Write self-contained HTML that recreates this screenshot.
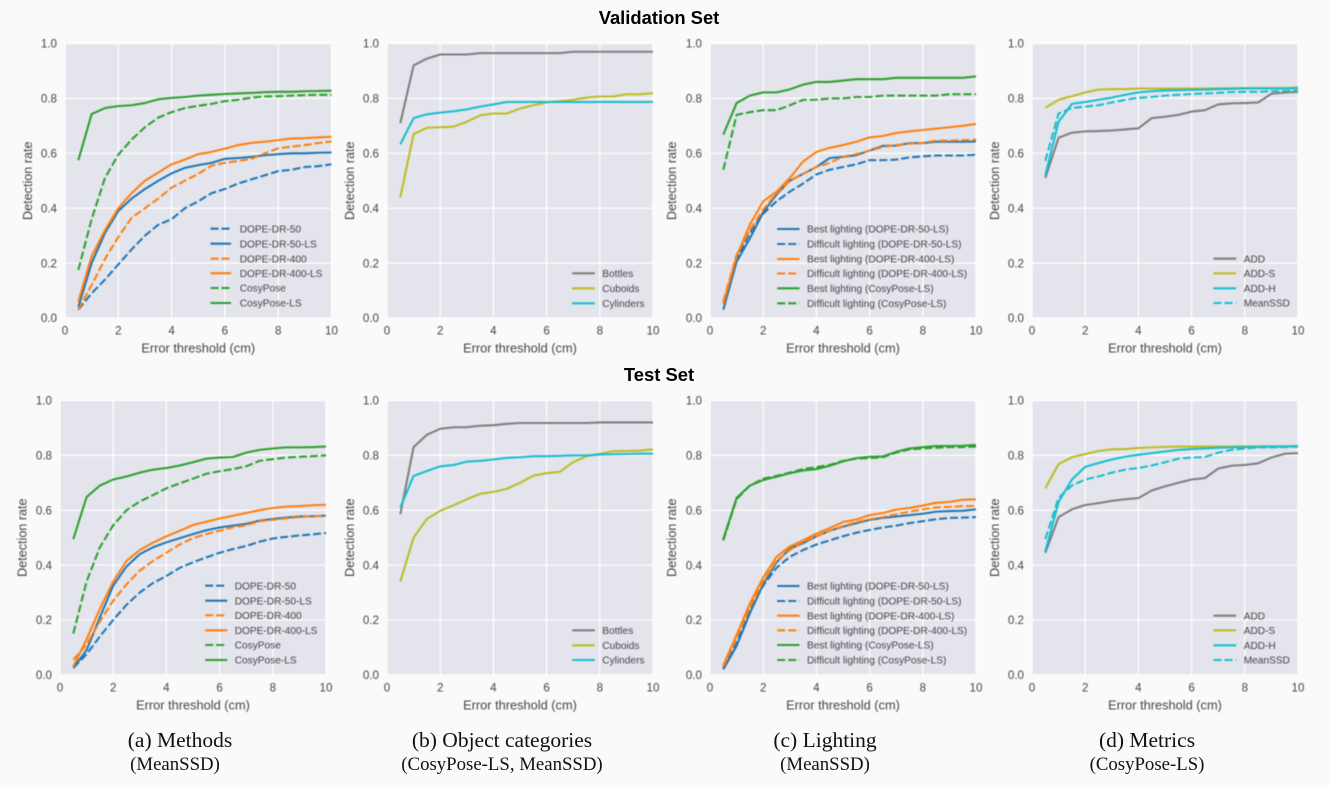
<!DOCTYPE html>
<html lang="en">
<head>
<meta charset="utf-8">
<title>Detection rate vs error threshold</title>
<style>
html,body{margin:0;padding:0;background:#fafafa;}
#figure{position:relative;width:1330px;height:785px;overflow:hidden;background:#fafafa;}
#chart{position:absolute;left:0;top:0;filter:blur(0.45px);}
.heading{position:absolute;font-family:"Liberation Sans",Arial,sans-serif;font-weight:bold;font-size:18.4px;color:#000;width:300px;text-align:center;left:509px;line-height:20px;}
.cap{position:absolute;font-family:"Liberation Serif","Times New Roman",serif;color:#111;text-align:center;white-space:nowrap;transform:translateX(-50%);}
.cap1{font-size:21.5px;line-height:24px;top:727.5px;}
.cap2{font-size:18.8px;line-height:20px;top:755px;}
</style>
</head>
<body>
<div id="figure">
  <svg id="chart" width="1330" height="785" viewBox="0 0 1330 785" xmlns="http://www.w3.org/2000/svg"></svg>
  <div class="heading" style="top:8px">Validation Set</div>
  <div class="heading" style="top:365px">Test Set</div>
  <div class="cap cap1" style="left:180px">(a) Methods</div>
  <div class="cap cap2" style="left:175px">(MeanSSD)</div>
  <div class="cap cap1" style="left:502px">(b) Object categories</div>
  <div class="cap cap2" style="left:502px">(CosyPose-LS, MeanSSD)</div>
  <div class="cap cap1" style="left:825px">(c) Lighting</div>
  <div class="cap cap2" style="left:825px">(MeanSSD)</div>
  <div class="cap cap1" style="left:1147px">(d) Metrics</div>
  <div class="cap cap2" style="left:1147px">(CosyPose-LS)</div>
</div>
<script>
// ---------- shared axis data ----------
const thresholds = [0.5,1,1.5,2,2.5,3,3.5,4,4.5,5,5.5,6,6.5,7,7.5,8,8.5,9,9.5,10];
const xTickValues = [0,2,4,6,8,10];
const xTickLabels = ['0','2','4','6','8','10'];
const yTickValues = [0,0.2,0.4,0.6,0.8,1];
const yTickLabels = ['0.0','0.2','0.4','0.6','0.8','1.0'];

// ---------- legend labels ----------
const methodLabels = ['DOPE-DR-50','DOPE-DR-50-LS','DOPE-DR-400','DOPE-DR-400-LS','CosyPose','CosyPose-LS'];
const categoryLabels = ['Bottles','Cuboids','Cylinders'];
const lightingLabels = ['Best lighting (DOPE-DR-50-LS)','Difficult lighting (DOPE-DR-50-LS)','Best lighting (DOPE-DR-400-LS)','Difficult lighting (DOPE-DR-400-LS)','Best lighting (CosyPose-LS)','Difficult lighting (CosyPose-LS)'];
const metricLabels = ['ADD','ADD-S','ADD-H','MeanSSD'];

// ---------- validation: methods ----------
const valDope50 = [0.03,0.09,0.14,0.195,0.25,0.30,0.34,0.36,0.40,0.425,0.455,0.47,0.49,0.505,0.52,0.535,0.54,0.55,0.553,0.56];
const valDope50LS = [0.04,0.20,0.31,0.39,0.435,0.47,0.50,0.527,0.547,0.557,0.565,0.58,0.583,0.587,0.593,0.597,0.60,0.60,0.602,0.603];
const valDope400 = [0.03,0.12,0.215,0.295,0.365,0.40,0.435,0.475,0.50,0.525,0.555,0.565,0.572,0.58,0.60,0.618,0.624,0.63,0.637,0.643];
const valDope400LS = [0.06,0.225,0.32,0.40,0.455,0.50,0.53,0.56,0.577,0.597,0.605,0.617,0.63,0.638,0.642,0.648,0.654,0.655,0.658,0.66];
const valCosy = [0.175,0.36,0.51,0.595,0.65,0.695,0.73,0.75,0.765,0.773,0.78,0.79,0.795,0.803,0.807,0.808,0.81,0.812,0.813,0.813];
const valCosyLS = [0.575,0.743,0.765,0.772,0.775,0.783,0.797,0.802,0.805,0.81,0.813,0.816,0.818,0.82,0.823,0.824,0.824,0.826,0.827,0.828];

// ---------- validation: categories ----------
const valBottles = [0.71,0.92,0.945,0.96,0.96,0.96,0.965,0.965,0.965,0.965,0.965,0.965,0.965,0.97,0.97,0.97,0.97,0.97,0.97,0.97];
const valCuboids = [0.44,0.67,0.693,0.695,0.697,0.715,0.738,0.745,0.745,0.763,0.775,0.785,0.79,0.795,0.803,0.807,0.807,0.815,0.815,0.819];
const valCylinders = [0.633,0.728,0.742,0.748,0.753,0.76,0.77,0.778,0.787,0.787,0.787,0.787,0.787,0.787,0.787,0.787,0.787,0.787,0.787,0.787];

// ---------- validation: lighting ----------
const valBest50 = [0.03,0.205,0.29,0.385,0.45,0.50,0.525,0.55,0.583,0.587,0.593,0.61,0.627,0.628,0.637,0.637,0.642,0.642,0.642,0.643];
const valDiff50 = [0.05,0.215,0.31,0.38,0.425,0.46,0.49,0.523,0.54,0.55,0.56,0.575,0.575,0.577,0.585,0.589,0.592,0.592,0.592,0.595];
const valBest400 = [0.05,0.225,0.34,0.425,0.46,0.51,0.57,0.605,0.62,0.63,0.642,0.658,0.663,0.674,0.68,0.685,0.69,0.695,0.70,0.707];
const valDiff400 = [0.06,0.23,0.32,0.395,0.455,0.50,0.525,0.55,0.565,0.588,0.597,0.61,0.623,0.63,0.635,0.638,0.646,0.646,0.648,0.65];
const valBestCosy = [0.668,0.783,0.81,0.822,0.822,0.833,0.85,0.86,0.86,0.865,0.87,0.87,0.87,0.875,0.875,0.875,0.875,0.875,0.875,0.88];
const valDiffCosy = [0.54,0.74,0.75,0.757,0.757,0.775,0.795,0.795,0.80,0.80,0.805,0.805,0.81,0.81,0.81,0.81,0.81,0.815,0.815,0.815];

// ---------- validation: metrics ----------
const valAdd = [0.51,0.657,0.675,0.68,0.681,0.683,0.687,0.691,0.728,0.733,0.74,0.752,0.757,0.778,0.782,0.783,0.785,0.817,0.821,0.824];
const valAddS = [0.766,0.795,0.808,0.822,0.832,0.834,0.834,0.836,0.836,0.836,0.836,0.836,0.836,0.837,0.837,0.838,0.838,0.838,0.838,0.84];
const valAddH = [0.52,0.715,0.78,0.787,0.795,0.803,0.813,0.822,0.826,0.829,0.83,0.831,0.832,0.834,0.835,0.836,0.836,0.836,0.836,0.837];
const valMeanSSD = [0.572,0.745,0.765,0.77,0.775,0.785,0.795,0.802,0.805,0.81,0.813,0.816,0.818,0.82,0.823,0.824,0.824,0.826,0.827,0.828];

// ---------- test: methods ----------
const testDope50 = [0.025,0.075,0.14,0.20,0.255,0.30,0.335,0.36,0.39,0.41,0.428,0.445,0.458,0.47,0.485,0.497,0.503,0.508,0.512,0.517];
const testDope50LS = [0.025,0.09,0.21,0.325,0.395,0.44,0.465,0.483,0.498,0.513,0.527,0.537,0.544,0.55,0.562,0.568,0.573,0.577,0.578,0.58];
const testDope400 = [0.055,0.11,0.195,0.27,0.33,0.38,0.415,0.445,0.475,0.498,0.513,0.525,0.538,0.545,0.56,0.565,0.57,0.575,0.578,0.58];
const testDope400LS = [0.03,0.13,0.24,0.34,0.415,0.455,0.482,0.505,0.525,0.546,0.558,0.57,0.58,0.59,0.60,0.608,0.613,0.615,0.618,0.62];
const testCosy = [0.15,0.34,0.465,0.545,0.60,0.632,0.655,0.68,0.698,0.715,0.733,0.742,0.75,0.76,0.78,0.786,0.792,0.795,0.797,0.80];
const testCosyLS = [0.495,0.648,0.69,0.712,0.723,0.737,0.748,0.754,0.763,0.775,0.788,0.792,0.794,0.81,0.82,0.825,0.829,0.829,0.83,0.832];

// ---------- test: categories ----------
const testBottles = [0.585,0.83,0.875,0.897,0.902,0.903,0.908,0.91,0.915,0.918,0.918,0.918,0.918,0.918,0.918,0.92,0.92,0.92,0.92,0.92];
const testCuboids = [0.34,0.50,0.568,0.598,0.618,0.64,0.66,0.667,0.678,0.70,0.726,0.735,0.74,0.775,0.797,0.806,0.815,0.816,0.817,0.822];
const testCylinders = [0.61,0.725,0.743,0.76,0.765,0.777,0.78,0.785,0.791,0.793,0.797,0.797,0.798,0.80,0.80,0.803,0.804,0.805,0.806,0.806];

// ---------- test: lighting ----------
const testBest50 = [0.02,0.105,0.225,0.33,0.41,0.46,0.48,0.505,0.525,0.54,0.553,0.565,0.572,0.577,0.582,0.587,0.595,0.597,0.598,0.603];
const testDiff50 = [0.025,0.115,0.235,0.325,0.39,0.43,0.455,0.475,0.49,0.505,0.518,0.528,0.537,0.544,0.553,0.56,0.567,0.572,0.573,0.575];
const testBest400 = [0.035,0.145,0.26,0.355,0.43,0.468,0.49,0.515,0.535,0.557,0.566,0.582,0.59,0.602,0.608,0.617,0.627,0.63,0.638,0.64];
const testDiff400 = [0.03,0.135,0.245,0.34,0.415,0.455,0.485,0.505,0.525,0.542,0.557,0.567,0.575,0.585,0.595,0.603,0.61,0.612,0.615,0.615];
const testBestCosy = [0.495,0.645,0.69,0.71,0.722,0.735,0.745,0.75,0.762,0.778,0.79,0.795,0.796,0.813,0.825,0.83,0.834,0.834,0.835,0.838];
const testDiffCosy = [0.49,0.64,0.69,0.715,0.725,0.737,0.75,0.757,0.765,0.78,0.788,0.79,0.793,0.81,0.822,0.825,0.828,0.83,0.83,0.832];

// ---------- test: metrics ----------
const testAdd = [0.445,0.575,0.603,0.619,0.626,0.634,0.64,0.644,0.672,0.687,0.70,0.712,0.717,0.752,0.762,0.765,0.771,0.792,0.806,0.808];
const testAddS = [0.68,0.768,0.793,0.805,0.816,0.822,0.823,0.827,0.829,0.831,0.832,0.832,0.832,0.832,0.832,0.833,0.833,0.833,0.833,0.834];
const testAddH = [0.45,0.63,0.712,0.758,0.772,0.785,0.795,0.802,0.808,0.814,0.82,0.823,0.825,0.828,0.829,0.83,0.831,0.832,0.832,0.834];
const testMeanSSD = [0.495,0.645,0.69,0.712,0.723,0.737,0.748,0.754,0.763,0.775,0.788,0.792,0.794,0.81,0.82,0.825,0.829,0.829,0.83,0.832];

// ---------- series styling (separate from data) ----------
const BLUE='#1f77b4', ORANGE='#ff7f0e', GREEN='#2ca02c', GRAY='#7f7f7f', OLIVE='#bcbd22', CYAN='#17becf';
const methodStyles = [[BLUE,1],[BLUE,0],[ORANGE,1],[ORANGE,0],[GREEN,1],[GREEN,0]];
const categoryStyles = [[GRAY,0],[OLIVE,0],[CYAN,0]];
const lightingStyles = [[BLUE,0],[BLUE,1],[ORANGE,0],[ORANGE,1],[GREEN,0],[GREEN,1]];
const metricStyles = [[GRAY,0],[OLIVE,0],[CYAN,0],[CYAN,1]];

// ---------- panel layout ----------
const panels = [
  {id:'validation-methods', L:65, R:331.5, T:43.5, B:318, ylab:27.5, labels:methodLabels, styles:methodStyles, data:[valDope50,valDope50LS,valDope400,valDope400LS,valCosy,valCosyLS], lgx:[210.5,231,239.7], lgy:[228.7,243.7,258.7,273.2,288,303]},
  {id:'validation-categories', L:387, R:653, T:43.5, B:318, ylab:349.5, labels:categoryLabels, styles:categoryStyles, data:[valBottles,valCuboids,valCylinders], lgx:[572.2,594.8,602.3], lgy:[273.3,288.3,303.3]},
  {id:'validation-lighting', L:710, R:976, T:43.5, B:318, ylab:671.7, labels:lightingLabels, styles:lightingStyles, data:[valBest50,valDiff50,valBest400,valDiff400,valBestCosy,valDiffCosy], lgx:[777.2,799.5,807], lgy:[229,244,259,273.5,288.3,303.3]},
  {id:'validation-metrics', L:1032, R:1298, T:43.5, B:318, ylab:994.5, labels:metricLabels, styles:metricStyles, data:[valAdd,valAddS,valAddH,valMeanSSD], lgx:[1213.5,1236.2,1243.7], lgy:[258.7,273.3,288.3,303]},
  {id:'test-methods', L:60, R:326, T:400.5, B:674.8, ylab:22, labels:methodLabels, styles:methodStyles, data:[testDope50,testDope50LS,testDope400,testDope400LS,testCosy,testCosyLS], lgx:[205.2,227.2,234.7], lgy:[585.7,600.7,615.3,630.3,645,660]},
  {id:'test-categories', L:387, R:653, T:400.5, B:674.8, ylab:349.5, labels:categoryLabels, styles:categoryStyles, data:[testBottles,testCuboids,testCylinders], lgx:[572.2,594.8,602.3], lgy:[630.3,645.3,660]},
  {id:'test-lighting', L:710, R:976, T:400.5, B:674.8, ylab:671.7, labels:lightingLabels, styles:lightingStyles, data:[testBest50,testDiff50,testBest400,testDiff400,testBestCosy,testDiffCosy], lgx:[777.2,799.5,807], lgy:[586,601,615.7,630.3,645,660]},
  {id:'test-metrics', L:1032, R:1298, T:400.5, B:674.8, ylab:994.5, labels:metricLabels, styles:metricStyles, data:[testAdd,testAddS,testAddH,testMeanSSD], lgx:[1213.5,1236.2,1243.7], lgy:[615.7,630.3,645.3,660]}
];

const SVGNS = 'http://www.w3.org/2000/svg';
const svg = document.getElementById('chart');
const FONT = '"Liberation Sans", Arial, sans-serif';
const TEXT_COLOR = '#454545';
const DASH = '8 3';
const LINE_WIDTH = 2.05;

function make(parent, tag, attrs, content) {
  const node = document.createElementNS(SVGNS, tag);
  Object.keys(attrs).forEach(function (k) { node.setAttribute(k, attrs[k]); });
  if (content !== undefined) node.textContent = content;
  parent.appendChild(node);
  return node;
}
function slug(s) {
  return s.toLowerCase().replace(/[^a-z0-9]+/g, '-').replace(/^-|-$/g, '');
}
function xScale(p, v) { return p.L + (v - 0) / (10 - 0) * (p.R - p.L); }
function yScale(p, v) { return p.B - (v - 0) / (1 - 0) * (p.B - p.T); }

panels.forEach(function (p) {
  const g = make(svg, 'g', {});
  
  

  const bg = make(g, 'rect', {x:p.L, y:p.T, width:p.R-p.L, height:p.B-p.T, fill:'#e3e4ec'});
  
  

  xTickValues.forEach(function (v, i) {
    const x = xScale(p, v);
    const line = make(g, 'line', {x1:x, x2:x, y1:p.T, y2:p.B, stroke:'#ffffff', 'stroke-width':1.2});
    
    
    const t = make(g, 'text', {x:x, y:p.B+16.6, 'text-anchor':'middle', 'font-family':FONT, 'font-size':11.6, fill:TEXT_COLOR}, xTickLabels[i]);
    
    
  });
  yTickValues.forEach(function (v, i) {
    const y = yScale(p, v);
    const line = make(g, 'line', {x1:p.L, x2:p.R, y1:y, y2:y, stroke:'#ffffff', 'stroke-width':1.2});
    
    
    const t = make(g, 'text', {x:p.L-8, y:y+4.2, 'text-anchor':'end', 'font-family':FONT, 'font-size':11.6, fill:TEXT_COLOR}, yTickLabels[i]);
    
    
  });

  p.data.forEach(function (vals, i) {
    const d = vals.map(function (v, j) {
      return (j ? 'L' : 'M') + xScale(p, thresholds[j]).toFixed(2) + ' ' + yScale(p, v).toFixed(2);
    }).join('');
    const attrs = {d:d, fill:'none', stroke:p.styles[i][0], 'stroke-width':LINE_WIDTH, 'stroke-linejoin':'round'};
    if (p.styles[i][1]) attrs['stroke-dasharray'] = DASH;
    const path = make(g, 'path', attrs);
    
    
  });

  const xTitle = make(g, 'text', {x:(p.L+p.R)/2, y:p.B+34.5, 'text-anchor':'middle', 'font-family':FONT, 'font-size':12.8, fill:TEXT_COLOR}, 'Error threshold (cm)');
  
  

  const yc = (p.T+p.B)/2;
  const yTitle = make(g, 'text', {x:0, y:0, transform:'translate(' + (p.ylab+4.5) + ' ' + yc + ') rotate(-90)', 'text-anchor':'middle', 'font-family':FONT, 'font-size':12.6, fill:TEXT_COLOR}, 'Detection rate');
  
  

  const lg = make(g, 'g', {});
  
  
  p.labels.forEach(function (label, i) {
    const ly = p.lgy[i];
    const attrs = {x1:p.lgx[0], x2:p.lgx[1], y1:ly, y2:ly, stroke:p.styles[i][0], 'stroke-width':LINE_WIDTH};
    if (p.styles[i][1]) attrs['stroke-dasharray'] = DASH;
    const sw = make(lg, 'line', attrs);
    
    
    const t = make(lg, 'text', {x:p.lgx[2], y:ly+3.6, 'font-family':FONT, 'font-size':10.15, fill:TEXT_COLOR}, label);
    
    
  });
});
</script>
</body>
</html>
